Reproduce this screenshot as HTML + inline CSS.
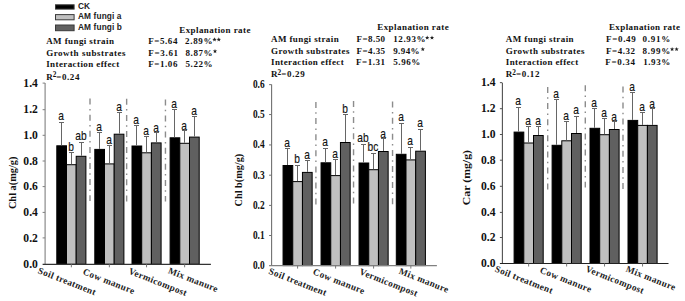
<!DOCTYPE html>
<html><head><meta charset="utf-8"><style>
html,body{margin:0;padding:0;background:#fff;}
svg{display:block;}
</style></head><body>
<svg width="685" height="301" viewBox="0 0 685 301">
<rect width="685" height="301" fill="#fff"/>
<rect x="55.5" y="4.80" width="18.6" height="4.30" fill="#000" stroke="#3a3a3a" stroke-width="1"/>
<text x="78" y="9.3" font-family='"Liberation Sans", sans-serif' font-size="8.3" font-weight="bold" text-anchor="start" fill="#222" letter-spacing="0.12">CK</text>
<rect x="55.5" y="14.60" width="18.6" height="5.20" fill="#c0c0c0" stroke="#3a3a3a" stroke-width="1"/>
<text x="78" y="19.0" font-family='"Liberation Sans", sans-serif' font-size="8.3" font-weight="bold" text-anchor="start" fill="#222" letter-spacing="0.12">AM fungi a</text>
<rect x="55.5" y="25.00" width="18.6" height="5.70" fill="#606060" stroke="#3a3a3a" stroke-width="1"/>
<text x="78" y="29.7" font-family='"Liberation Sans", sans-serif' font-size="8.3" font-weight="bold" text-anchor="start" fill="#222" letter-spacing="0.12">AM fungi b</text>
<rect x="56.80" y="145.80" width="9.7" height="118.50" fill="#000000" stroke="#000" stroke-width="1"/>
<line x1="61.50" y1="145.30" x2="61.50" y2="122.50" stroke="#666" stroke-width="1"/>
<line x1="59.00" y1="122.50" x2="64.00" y2="122.50" stroke="#666" stroke-width="1"/>
<text x="61.00" y="119.80" font-family='"Liberation Sans", sans-serif' font-size="12" text-anchor="middle" fill="#111" stroke="#111" stroke-width="0.15" transform="translate(61.00,0) scale(0.85,1) translate(-61.00,0)">a</text>
<rect x="66.50" y="164.70" width="9.7" height="99.60" fill="#c0c0c0" stroke="#000" stroke-width="1"/>
<line x1="71.50" y1="164.20" x2="71.50" y2="152.50" stroke="#666" stroke-width="1"/>
<line x1="69.00" y1="152.50" x2="74.00" y2="152.50" stroke="#666" stroke-width="1"/>
<text x="71.00" y="151.40" font-family='"Liberation Sans", sans-serif' font-size="12" text-anchor="middle" fill="#111" stroke="#111" stroke-width="0.15" transform="translate(71.00,0) scale(0.85,1) translate(-71.00,0)">b</text>
<rect x="76.20" y="156.30" width="9.7" height="108.00" fill="#606060" stroke="#000" stroke-width="1"/>
<line x1="81.50" y1="155.80" x2="81.50" y2="142.50" stroke="#666" stroke-width="1"/>
<line x1="79.00" y1="142.50" x2="84.00" y2="142.50" stroke="#666" stroke-width="1"/>
<text x="81.00" y="140.40" font-family='"Liberation Sans", sans-serif' font-size="12" text-anchor="middle" fill="#111" stroke="#111" stroke-width="0.15" transform="translate(81.00,0) scale(0.85,1) translate(-81.00,0)">ab</text>
<rect x="94.80" y="149.40" width="9.7" height="114.90" fill="#000000" stroke="#000" stroke-width="1"/>
<line x1="99.50" y1="148.90" x2="99.50" y2="132.50" stroke="#666" stroke-width="1"/>
<line x1="97.00" y1="132.50" x2="102.00" y2="132.50" stroke="#666" stroke-width="1"/>
<text x="99.00" y="130.60" font-family='"Liberation Sans", sans-serif' font-size="12" text-anchor="middle" fill="#111" stroke="#111" stroke-width="0.15" transform="translate(99.00,0) scale(0.85,1) translate(-99.00,0)">a</text>
<rect x="104.50" y="163.90" width="9.7" height="100.40" fill="#c0c0c0" stroke="#000" stroke-width="1"/>
<line x1="109.50" y1="163.40" x2="109.50" y2="145.50" stroke="#666" stroke-width="1"/>
<line x1="107.00" y1="145.50" x2="112.00" y2="145.50" stroke="#666" stroke-width="1"/>
<text x="109.00" y="143.70" font-family='"Liberation Sans", sans-serif' font-size="12" text-anchor="middle" fill="#111" stroke="#111" stroke-width="0.15" transform="translate(109.00,0) scale(0.85,1) translate(-109.00,0)">a</text>
<rect x="114.20" y="134.20" width="9.7" height="130.10" fill="#606060" stroke="#000" stroke-width="1"/>
<line x1="119.50" y1="133.70" x2="119.50" y2="112.50" stroke="#666" stroke-width="1"/>
<line x1="117.00" y1="112.50" x2="122.00" y2="112.50" stroke="#666" stroke-width="1"/>
<text x="119.00" y="111.30" font-family='"Liberation Sans", sans-serif' font-size="12" text-anchor="middle" fill="#111" stroke="#111" stroke-width="0.15" transform="translate(119.00,0) scale(0.85,1) translate(-119.00,0)">a</text>
<rect x="132.00" y="146.00" width="9.7" height="118.30" fill="#000000" stroke="#000" stroke-width="1"/>
<line x1="136.50" y1="145.50" x2="136.50" y2="125.50" stroke="#666" stroke-width="1"/>
<line x1="134.00" y1="125.50" x2="139.00" y2="125.50" stroke="#666" stroke-width="1"/>
<text x="136.00" y="123.70" font-family='"Liberation Sans", sans-serif' font-size="12" text-anchor="middle" fill="#111" stroke="#111" stroke-width="0.15" transform="translate(136.00,0) scale(0.85,1) translate(-136.00,0)">a</text>
<rect x="141.70" y="152.80" width="9.7" height="111.50" fill="#c0c0c0" stroke="#000" stroke-width="1"/>
<line x1="146.50" y1="152.30" x2="146.50" y2="136.50" stroke="#666" stroke-width="1"/>
<line x1="144.00" y1="136.50" x2="149.00" y2="136.50" stroke="#666" stroke-width="1"/>
<text x="146.00" y="134.60" font-family='"Liberation Sans", sans-serif' font-size="12" text-anchor="middle" fill="#111" stroke="#111" stroke-width="0.15" transform="translate(146.00,0) scale(0.85,1) translate(-146.00,0)">a</text>
<rect x="151.40" y="142.90" width="9.7" height="121.40" fill="#606060" stroke="#000" stroke-width="1"/>
<line x1="156.50" y1="142.40" x2="156.50" y2="132.50" stroke="#666" stroke-width="1"/>
<line x1="154.00" y1="132.50" x2="159.00" y2="132.50" stroke="#666" stroke-width="1"/>
<text x="156.00" y="131.90" font-family='"Liberation Sans", sans-serif' font-size="12" text-anchor="middle" fill="#111" stroke="#111" stroke-width="0.15" transform="translate(156.00,0) scale(0.85,1) translate(-156.00,0)">a</text>
<rect x="170.10" y="137.80" width="9.7" height="126.50" fill="#000000" stroke="#000" stroke-width="1"/>
<line x1="174.50" y1="137.30" x2="174.50" y2="109.50" stroke="#666" stroke-width="1"/>
<line x1="172.00" y1="109.50" x2="177.00" y2="109.50" stroke="#666" stroke-width="1"/>
<text x="174.00" y="108.10" font-family='"Liberation Sans", sans-serif' font-size="12" text-anchor="middle" fill="#111" stroke="#111" stroke-width="0.15" transform="translate(174.00,0) scale(0.85,1) translate(-174.00,0)">a</text>
<rect x="179.80" y="143.30" width="9.7" height="121.00" fill="#c0c0c0" stroke="#000" stroke-width="1"/>
<line x1="184.50" y1="142.80" x2="184.50" y2="130.50" stroke="#666" stroke-width="1"/>
<line x1="182.00" y1="130.50" x2="187.00" y2="130.50" stroke="#666" stroke-width="1"/>
<text x="184.00" y="129.60" font-family='"Liberation Sans", sans-serif' font-size="12" text-anchor="middle" fill="#111" stroke="#111" stroke-width="0.15" transform="translate(184.00,0) scale(0.85,1) translate(-184.00,0)">a</text>
<rect x="189.50" y="137.10" width="9.7" height="127.20" fill="#606060" stroke="#000" stroke-width="1"/>
<line x1="194.50" y1="136.60" x2="194.50" y2="116.50" stroke="#666" stroke-width="1"/>
<line x1="192.00" y1="116.50" x2="197.00" y2="116.50" stroke="#666" stroke-width="1"/>
<text x="194.00" y="114.70" font-family='"Liberation Sans", sans-serif' font-size="12" text-anchor="middle" fill="#111" stroke="#111" stroke-width="0.15" transform="translate(194.00,0) scale(0.85,1) translate(-194.00,0)">a</text>
<line x1="90.00" y1="98.6" x2="90.00" y2="201" stroke="#8c8c8c" stroke-width="1.4" stroke-dasharray="6 4.3 1.5 4.3"/>
<line x1="126.65" y1="98.8" x2="126.65" y2="201.5" stroke="#8c8c8c" stroke-width="1.4" stroke-dasharray="6 4.3 1.5 4.3"/>
<line x1="165.45" y1="99.4" x2="165.45" y2="201.5" stroke="#8c8c8c" stroke-width="1.4" stroke-dasharray="6 4.3 1.5 4.3"/>
<line x1="45.1" y1="83.1" x2="45.1" y2="264.3" stroke="#808080" stroke-width="1.1"/>
<line x1="42.6" y1="264.3" x2="210.9" y2="264.3" stroke="#333" stroke-width="1.2"/>
<text x="37.9" y="267.93" font-family='"Liberation Serif", serif' font-size="12.5" font-weight="bold" text-anchor="end" fill="#111" transform="translate(37.9,0) scale(0.93,1) translate(-37.9,0)">0.0</text>
<line x1="42.6" y1="237.90" x2="45.1" y2="237.90" stroke="#808080" stroke-width="1"/>
<text x="37.9" y="241.53" font-family='"Liberation Serif", serif' font-size="12.5" font-weight="bold" text-anchor="end" fill="#111" transform="translate(37.9,0) scale(0.93,1) translate(-37.9,0)">0.2</text>
<line x1="42.6" y1="212.40" x2="45.1" y2="212.40" stroke="#808080" stroke-width="1"/>
<text x="37.9" y="216.03" font-family='"Liberation Serif", serif' font-size="12.5" font-weight="bold" text-anchor="end" fill="#111" transform="translate(37.9,0) scale(0.93,1) translate(-37.9,0)">0.4</text>
<line x1="42.6" y1="186.60" x2="45.1" y2="186.60" stroke="#808080" stroke-width="1"/>
<text x="37.9" y="190.22" font-family='"Liberation Serif", serif' font-size="12.5" font-weight="bold" text-anchor="end" fill="#111" transform="translate(37.9,0) scale(0.93,1) translate(-37.9,0)">0.6</text>
<line x1="42.6" y1="161.00" x2="45.1" y2="161.00" stroke="#808080" stroke-width="1"/>
<text x="37.9" y="164.62" font-family='"Liberation Serif", serif' font-size="12.5" font-weight="bold" text-anchor="end" fill="#111" transform="translate(37.9,0) scale(0.93,1) translate(-37.9,0)">0.8</text>
<line x1="42.6" y1="135.30" x2="45.1" y2="135.30" stroke="#808080" stroke-width="1"/>
<text x="37.9" y="138.93" font-family='"Liberation Serif", serif' font-size="12.5" font-weight="bold" text-anchor="end" fill="#111" transform="translate(37.9,0) scale(0.93,1) translate(-37.9,0)">1.0</text>
<line x1="42.6" y1="109.70" x2="45.1" y2="109.70" stroke="#808080" stroke-width="1"/>
<text x="37.9" y="113.33" font-family='"Liberation Serif", serif' font-size="12.5" font-weight="bold" text-anchor="end" fill="#111" transform="translate(37.9,0) scale(0.93,1) translate(-37.9,0)">1.2</text>
<line x1="42.6" y1="83.10" x2="45.1" y2="83.10" stroke="#808080" stroke-width="1"/>
<text x="37.9" y="86.72" font-family='"Liberation Serif", serif' font-size="12.5" font-weight="bold" text-anchor="end" fill="#111" transform="translate(37.9,0) scale(0.93,1) translate(-37.9,0)">1.4</text>
<line x1="71.35" y1="264.3" x2="71.35" y2="267.3" stroke="#777" stroke-width="1"/>
<line x1="109.35" y1="264.3" x2="109.35" y2="267.3" stroke="#777" stroke-width="1"/>
<line x1="146.55" y1="264.3" x2="146.55" y2="267.3" stroke="#777" stroke-width="1"/>
<line x1="184.65" y1="264.3" x2="184.65" y2="267.3" stroke="#777" stroke-width="1"/>
<text x="0" y="0" font-family='"Liberation Serif", serif' font-size="9.3" font-weight="bold" fill="#222" letter-spacing="0.38" transform="translate(39.90,266.40) rotate(21.5) translate(0,7)">Soil treatment</text>
<text x="0" y="0" font-family='"Liberation Serif", serif' font-size="9.3" font-weight="bold" fill="#222" letter-spacing="0.38" transform="translate(84.80,267.60) rotate(21.5) translate(0,7)">Cow manure</text>
<text x="0" y="0" font-family='"Liberation Serif", serif' font-size="9.3" font-weight="bold" fill="#222" letter-spacing="0.38" transform="translate(130.60,267.00) rotate(21.5) translate(0,7)">Vermicompost</text>
<text x="0" y="0" font-family='"Liberation Serif", serif' font-size="9.3" font-weight="bold" fill="#222" letter-spacing="0.38" transform="translate(170.10,266.40) rotate(21.5) translate(0,7)">Mix manure</text>
<text x="0" y="0" font-family='"Liberation Serif", serif' font-size="10.8" font-weight="bold" text-anchor="middle" fill="#111" textLength="52.6" lengthAdjust="spacingAndGlyphs" transform="translate(16.0,182.8) rotate(-90)">Chl a(mg/g)</text>
<text x="179.2" y="32.5" font-family='"Liberation Serif", serif' font-size="9.0" font-weight="bold" text-anchor="start" fill="#111" textLength="71.2" lengthAdjust="spacing" >Explanation rate</text>
<text x="46.2" y="44.1" font-family='"Liberation Serif", serif' font-size="9.0" font-weight="bold" text-anchor="start" fill="#111" textLength="67.7" lengthAdjust="spacing" >AM fungi strain</text>
<text x="148.3" y="44.1" font-family='"Liberation Serif", serif' font-size="9.0" font-weight="bold" text-anchor="start" fill="#111" textLength="29.1" lengthAdjust="spacing" >F=5.64</text>
<text x="184.9" y="44.1" font-family='"Liberation Serif", serif' font-size="9.0" font-weight="bold" text-anchor="start" fill="#111" textLength="27.7" lengthAdjust="spacing" >2.89%</text>
<polygon points="214.50,37.30 215.07,38.82 216.69,38.89 215.42,39.90 215.85,41.46 214.50,40.57 213.15,41.46 213.58,39.90 212.31,38.89 213.93,38.82" fill="#222"/>
<polygon points="218.80,37.30 219.37,38.82 220.99,38.89 219.72,39.90 220.15,41.46 218.80,40.57 217.45,41.46 217.88,39.90 216.61,38.89 218.23,38.82" fill="#222"/>
<text x="46.2" y="55.9" font-family='"Liberation Serif", serif' font-size="9.0" font-weight="bold" text-anchor="start" fill="#111" textLength="79.4" lengthAdjust="spacing" >Growth substrates</text>
<text x="148.3" y="55.9" font-family='"Liberation Serif", serif' font-size="9.0" font-weight="bold" text-anchor="start" fill="#111" textLength="29.8" lengthAdjust="spacing" >F=3.61</text>
<text x="185.5" y="55.9" font-family='"Liberation Serif", serif' font-size="9.0" font-weight="bold" text-anchor="start" fill="#111" textLength="27.1" lengthAdjust="spacing" >8.87%</text>
<polygon points="215.00,49.00 215.57,50.52 217.19,50.59 215.92,51.60 216.35,53.16 215.00,52.27 213.65,53.16 214.08,51.60 212.81,50.59 214.43,50.52" fill="#222"/>
<text x="46.2" y="67.4" font-family='"Liberation Serif", serif' font-size="9.0" font-weight="bold" text-anchor="start" fill="#111" textLength="73.0" lengthAdjust="spacing" >Interaction effect</text>
<text x="148.3" y="67.4" font-family='"Liberation Serif", serif' font-size="9.0" font-weight="bold" text-anchor="start" fill="#111" textLength="29.1" lengthAdjust="spacing" >F=1.06</text>
<text x="185.5" y="67.4" font-family='"Liberation Serif", serif' font-size="9.0" font-weight="bold" text-anchor="start" fill="#111" textLength="27.1" lengthAdjust="spacing" >5.22%</text>
<text x="46.2" y="79.7" font-family='"Liberation Serif", serif' font-size="9.0" font-weight="bold" fill="#111">R<tspan font-size="7.3" dy="-2.5">2</tspan><tspan dy="2.5" textLength="23.05" lengthAdjust="spacing">=0.24</tspan></text>
<rect x="283.05" y="165.50" width="9.7" height="100.10" fill="#000000" stroke="#000" stroke-width="1"/>
<line x1="287.50" y1="165.00" x2="287.50" y2="148.50" stroke="#666" stroke-width="1"/>
<line x1="285.00" y1="148.50" x2="290.00" y2="148.50" stroke="#666" stroke-width="1"/>
<text x="287.00" y="147.30" font-family='"Liberation Sans", sans-serif' font-size="12" text-anchor="middle" fill="#111" stroke="#111" stroke-width="0.15" transform="translate(287.00,0) scale(0.85,1) translate(-287.00,0)">a</text>
<rect x="292.75" y="181.60" width="9.7" height="84.00" fill="#c0c0c0" stroke="#000" stroke-width="1"/>
<line x1="297.50" y1="181.10" x2="297.50" y2="165.50" stroke="#666" stroke-width="1"/>
<line x1="295.00" y1="165.50" x2="300.00" y2="165.50" stroke="#666" stroke-width="1"/>
<text x="297.00" y="163.20" font-family='"Liberation Sans", sans-serif' font-size="12" text-anchor="middle" fill="#111" stroke="#111" stroke-width="0.15" transform="translate(297.00,0) scale(0.85,1) translate(-297.00,0)">b</text>
<rect x="302.45" y="172.40" width="9.7" height="93.20" fill="#606060" stroke="#000" stroke-width="1"/>
<line x1="307.50" y1="171.90" x2="307.50" y2="160.50" stroke="#666" stroke-width="1"/>
<line x1="305.00" y1="160.50" x2="310.00" y2="160.50" stroke="#666" stroke-width="1"/>
<text x="307.00" y="159.20" font-family='"Liberation Sans", sans-serif' font-size="12" text-anchor="middle" fill="#111" stroke="#111" stroke-width="0.15" transform="translate(307.00,0) scale(0.85,1) translate(-307.00,0)">a</text>
<rect x="321.05" y="162.80" width="9.7" height="102.80" fill="#000000" stroke="#000" stroke-width="1"/>
<line x1="325.50" y1="162.30" x2="325.50" y2="148.50" stroke="#666" stroke-width="1"/>
<line x1="323.00" y1="148.50" x2="328.00" y2="148.50" stroke="#666" stroke-width="1"/>
<text x="325.00" y="146.20" font-family='"Liberation Sans", sans-serif' font-size="12" text-anchor="middle" fill="#111" stroke="#111" stroke-width="0.15" transform="translate(325.00,0) scale(0.85,1) translate(-325.00,0)">a</text>
<rect x="330.75" y="175.60" width="9.7" height="90.00" fill="#c0c0c0" stroke="#000" stroke-width="1"/>
<line x1="335.50" y1="175.10" x2="335.50" y2="159.50" stroke="#666" stroke-width="1"/>
<line x1="333.00" y1="159.50" x2="338.00" y2="159.50" stroke="#666" stroke-width="1"/>
<text x="335.00" y="157.80" font-family='"Liberation Sans", sans-serif' font-size="12" text-anchor="middle" fill="#111" stroke="#111" stroke-width="0.15" transform="translate(335.00,0) scale(0.85,1) translate(-335.00,0)">a</text>
<rect x="340.45" y="142.50" width="9.7" height="123.10" fill="#606060" stroke="#000" stroke-width="1"/>
<line x1="345.50" y1="142.00" x2="345.50" y2="114.50" stroke="#666" stroke-width="1"/>
<line x1="343.00" y1="114.50" x2="348.00" y2="114.50" stroke="#666" stroke-width="1"/>
<text x="345.00" y="113.10" font-family='"Liberation Sans", sans-serif' font-size="12" text-anchor="middle" fill="#111" stroke="#111" stroke-width="0.15" transform="translate(345.00,0) scale(0.85,1) translate(-345.00,0)">b</text>
<rect x="359.05" y="163.00" width="9.7" height="102.60" fill="#000000" stroke="#000" stroke-width="1"/>
<line x1="363.50" y1="162.50" x2="363.50" y2="144.50" stroke="#666" stroke-width="1"/>
<line x1="361.00" y1="144.50" x2="366.00" y2="144.50" stroke="#666" stroke-width="1"/>
<text x="363.00" y="142.30" font-family='"Liberation Sans", sans-serif' font-size="12" text-anchor="middle" fill="#111" stroke="#111" stroke-width="0.15" transform="translate(363.00,0) scale(0.85,1) translate(-363.00,0)">ab</text>
<rect x="368.75" y="169.70" width="9.7" height="95.90" fill="#c0c0c0" stroke="#000" stroke-width="1"/>
<line x1="373.50" y1="169.20" x2="373.50" y2="153.50" stroke="#666" stroke-width="1"/>
<line x1="371.00" y1="153.50" x2="376.00" y2="153.50" stroke="#666" stroke-width="1"/>
<text x="373.00" y="151.40" font-family='"Liberation Sans", sans-serif' font-size="12" text-anchor="middle" fill="#111" stroke="#111" stroke-width="0.15" transform="translate(373.00,0) scale(0.85,1) translate(-373.00,0)">bc</text>
<rect x="378.45" y="151.50" width="9.7" height="114.10" fill="#606060" stroke="#000" stroke-width="1"/>
<line x1="383.50" y1="151.00" x2="383.50" y2="138.50" stroke="#666" stroke-width="1"/>
<line x1="381.00" y1="138.50" x2="386.00" y2="138.50" stroke="#666" stroke-width="1"/>
<text x="383.00" y="138.10" font-family='"Liberation Sans", sans-serif' font-size="12" text-anchor="middle" fill="#111" stroke="#111" stroke-width="0.15" transform="translate(383.00,0) scale(0.85,1) translate(-383.00,0)">a</text>
<rect x="396.30" y="154.30" width="9.7" height="111.30" fill="#000000" stroke="#000" stroke-width="1"/>
<line x1="401.50" y1="153.80" x2="401.50" y2="123.50" stroke="#666" stroke-width="1"/>
<line x1="399.00" y1="123.50" x2="404.00" y2="123.50" stroke="#666" stroke-width="1"/>
<text x="401.00" y="121.30" font-family='"Liberation Sans", sans-serif' font-size="12" text-anchor="middle" fill="#111" stroke="#111" stroke-width="0.15" transform="translate(401.00,0) scale(0.85,1) translate(-401.00,0)">a</text>
<rect x="406.00" y="159.90" width="9.7" height="105.70" fill="#c0c0c0" stroke="#000" stroke-width="1"/>
<line x1="410.50" y1="159.40" x2="410.50" y2="147.50" stroke="#666" stroke-width="1"/>
<line x1="408.00" y1="147.50" x2="413.00" y2="147.50" stroke="#666" stroke-width="1"/>
<text x="410.00" y="145.50" font-family='"Liberation Sans", sans-serif' font-size="12" text-anchor="middle" fill="#111" stroke="#111" stroke-width="0.15" transform="translate(410.00,0) scale(0.85,1) translate(-410.00,0)">a</text>
<rect x="415.70" y="151.20" width="9.7" height="114.40" fill="#606060" stroke="#000" stroke-width="1"/>
<line x1="420.50" y1="150.70" x2="420.50" y2="129.50" stroke="#666" stroke-width="1"/>
<line x1="418.00" y1="129.50" x2="423.00" y2="129.50" stroke="#666" stroke-width="1"/>
<text x="420.00" y="126.80" font-family='"Liberation Sans", sans-serif' font-size="12" text-anchor="middle" fill="#111" stroke="#111" stroke-width="0.15" transform="translate(420.00,0) scale(0.85,1) translate(-420.00,0)">a</text>
<line x1="315.90" y1="102.0" x2="315.90" y2="205" stroke="#8c8c8c" stroke-width="1.4" stroke-dasharray="6 4.3 1.5 4.3"/>
<line x1="353.55" y1="101.0" x2="353.55" y2="204" stroke="#8c8c8c" stroke-width="1.4" stroke-dasharray="6 4.3 1.5 4.3"/>
<line x1="392.55" y1="101.6" x2="392.55" y2="205" stroke="#8c8c8c" stroke-width="1.4" stroke-dasharray="6 4.3 1.5 4.3"/>
<line x1="271.6" y1="84.5" x2="271.6" y2="265.6" stroke="#707070" stroke-width="1.1"/>
<line x1="269.1" y1="265.6" x2="436.9" y2="265.6" stroke="#808080" stroke-width="1.2"/>
<text x="264.6" y="269.06" font-family='"Liberation Serif", serif' font-size="12" font-weight="bold" text-anchor="end" fill="#111" transform="translate(264.6,0) scale(0.78,1) translate(-264.6,0)">0.0</text>
<line x1="269.1" y1="235.50" x2="271.6" y2="235.50" stroke="#707070" stroke-width="1"/>
<text x="264.6" y="238.96" font-family='"Liberation Serif", serif' font-size="12" font-weight="bold" text-anchor="end" fill="#111" transform="translate(264.6,0) scale(0.78,1) translate(-264.6,0)">0.1</text>
<line x1="269.1" y1="205.40" x2="271.6" y2="205.40" stroke="#707070" stroke-width="1"/>
<text x="264.6" y="208.86" font-family='"Liberation Serif", serif' font-size="12" font-weight="bold" text-anchor="end" fill="#111" transform="translate(264.6,0) scale(0.78,1) translate(-264.6,0)">0.2</text>
<line x1="269.1" y1="175.20" x2="271.6" y2="175.20" stroke="#707070" stroke-width="1"/>
<text x="264.6" y="178.66" font-family='"Liberation Serif", serif' font-size="12" font-weight="bold" text-anchor="end" fill="#111" transform="translate(264.6,0) scale(0.78,1) translate(-264.6,0)">0.3</text>
<line x1="269.1" y1="144.95" x2="271.6" y2="144.95" stroke="#707070" stroke-width="1"/>
<text x="264.6" y="148.41" font-family='"Liberation Serif", serif' font-size="12" font-weight="bold" text-anchor="end" fill="#111" transform="translate(264.6,0) scale(0.78,1) translate(-264.6,0)">0.4</text>
<line x1="269.1" y1="114.55" x2="271.6" y2="114.55" stroke="#707070" stroke-width="1"/>
<text x="264.6" y="118.01" font-family='"Liberation Serif", serif' font-size="12" font-weight="bold" text-anchor="end" fill="#111" transform="translate(264.6,0) scale(0.78,1) translate(-264.6,0)">0.5</text>
<line x1="269.1" y1="84.65" x2="271.6" y2="84.65" stroke="#707070" stroke-width="1"/>
<text x="264.6" y="88.11" font-family='"Liberation Serif", serif' font-size="12" font-weight="bold" text-anchor="end" fill="#111" transform="translate(264.6,0) scale(0.78,1) translate(-264.6,0)">0.6</text>
<line x1="297.60" y1="265.6" x2="297.60" y2="268.6" stroke="#777" stroke-width="1"/>
<line x1="335.60" y1="265.6" x2="335.60" y2="268.6" stroke="#777" stroke-width="1"/>
<line x1="373.60" y1="265.6" x2="373.60" y2="268.6" stroke="#777" stroke-width="1"/>
<line x1="410.85" y1="265.6" x2="410.85" y2="268.6" stroke="#777" stroke-width="1"/>
<text x="0" y="0" font-family='"Liberation Serif", serif' font-size="9.3" font-weight="bold" fill="#222" letter-spacing="0.38" transform="translate(270.60,267.00) rotate(21.5) translate(0,7)">Soil treatment</text>
<text x="0" y="0" font-family='"Liberation Serif", serif' font-size="9.3" font-weight="bold" fill="#222" letter-spacing="0.38" transform="translate(314.90,267.60) rotate(21.5) translate(0,7)">Cow manure</text>
<text x="0" y="0" font-family='"Liberation Serif", serif' font-size="9.3" font-weight="bold" fill="#222" letter-spacing="0.38" transform="translate(361.40,267.60) rotate(21.5) translate(0,7)">Vermicompost</text>
<text x="0" y="0" font-family='"Liberation Serif", serif' font-size="9.3" font-weight="bold" fill="#222" letter-spacing="0.38" transform="translate(400.80,267.00) rotate(21.5) translate(0,7)">Mix manure</text>
<text x="0" y="0" font-family='"Liberation Serif", serif' font-size="10.8" font-weight="bold" text-anchor="middle" fill="#111" textLength="52.7" lengthAdjust="spacingAndGlyphs" transform="translate(241.6,180.1) rotate(-90)">Chl b(mg/g)</text>
<text x="377.2" y="30.1" font-family='"Liberation Serif", serif' font-size="9.0" font-weight="bold" text-anchor="start" fill="#111" textLength="71.5" lengthAdjust="spacing" >Explanation rate</text>
<text x="271.0" y="41.8" font-family='"Liberation Serif", serif' font-size="9.0" font-weight="bold" text-anchor="start" fill="#111" textLength="67.7" lengthAdjust="spacing" >AM fungi strain</text>
<text x="356.5" y="41.8" font-family='"Liberation Serif", serif' font-size="9.0" font-weight="bold" text-anchor="start" fill="#111" textLength="28.6" lengthAdjust="spacing" >F=8.50</text>
<text x="393.2" y="41.8" font-family='"Liberation Serif", serif' font-size="9.0" font-weight="bold" text-anchor="start" fill="#111" textLength="32.4" lengthAdjust="spacing" >12.93%</text>
<polygon points="427.20,35.40 427.77,36.92 429.39,36.99 428.12,38.00 428.55,39.56 427.20,38.67 425.85,39.56 426.28,38.00 425.01,36.99 426.63,36.92" fill="#222"/>
<polygon points="432.00,35.40 432.57,36.92 434.19,36.99 432.92,38.00 433.35,39.56 432.00,38.67 430.65,39.56 431.08,38.00 429.81,36.99 431.43,36.92" fill="#222"/>
<text x="271.0" y="53.6" font-family='"Liberation Serif", serif' font-size="9.0" font-weight="bold" text-anchor="start" fill="#111" textLength="78.5" lengthAdjust="spacing" >Growth substrates</text>
<text x="356.5" y="53.6" font-family='"Liberation Serif", serif' font-size="9.0" font-weight="bold" text-anchor="start" fill="#111" textLength="28.6" lengthAdjust="spacing" >F=4.35</text>
<text x="393.2" y="53.6" font-family='"Liberation Serif", serif' font-size="9.0" font-weight="bold" text-anchor="start" fill="#111" textLength="26.4" lengthAdjust="spacing" >9.94%</text>
<polygon points="422.80,46.90 423.37,48.42 424.99,48.49 423.72,49.50 424.15,51.06 422.80,50.17 421.45,51.06 421.88,49.50 420.61,48.49 422.23,48.42" fill="#222"/>
<text x="271.0" y="65.2" font-family='"Liberation Serif", serif' font-size="9.0" font-weight="bold" text-anchor="start" fill="#111" textLength="72.7" lengthAdjust="spacing" >Interaction effect</text>
<text x="356.0" y="65.2" font-family='"Liberation Serif", serif' font-size="9.0" font-weight="bold" text-anchor="start" fill="#111" textLength="29.1" lengthAdjust="spacing" >F=1.31</text>
<text x="393.2" y="65.2" font-family='"Liberation Serif", serif' font-size="9.0" font-weight="bold" text-anchor="start" fill="#111" textLength="27.1" lengthAdjust="spacing" >5.96%</text>
<text x="271.0" y="77.2" font-family='"Liberation Serif", serif' font-size="9.0" font-weight="bold" fill="#111">R<tspan font-size="7.3" dy="-2.5">2</tspan><tspan dy="2.5" textLength="23.55" lengthAdjust="spacing">=0.29</tspan></text>
<rect x="514.10" y="132.10" width="9.7" height="131.40" fill="#000000" stroke="#000" stroke-width="1"/>
<line x1="518.50" y1="131.60" x2="518.50" y2="107.50" stroke="#666" stroke-width="1"/>
<line x1="516.00" y1="107.50" x2="521.00" y2="107.50" stroke="#666" stroke-width="1"/>
<text x="518.00" y="104.90" font-family='"Liberation Sans", sans-serif' font-size="12" text-anchor="middle" fill="#111" stroke="#111" stroke-width="0.15" transform="translate(518.00,0) scale(0.85,1) translate(-518.00,0)">a</text>
<rect x="523.80" y="143.00" width="9.7" height="120.50" fill="#c0c0c0" stroke="#000" stroke-width="1"/>
<line x1="528.50" y1="142.50" x2="528.50" y2="126.50" stroke="#666" stroke-width="1"/>
<line x1="526.00" y1="126.50" x2="531.00" y2="126.50" stroke="#666" stroke-width="1"/>
<text x="528.00" y="124.60" font-family='"Liberation Sans", sans-serif' font-size="12" text-anchor="middle" fill="#111" stroke="#111" stroke-width="0.15" transform="translate(528.00,0) scale(0.85,1) translate(-528.00,0)">a</text>
<rect x="533.50" y="135.50" width="9.7" height="128.00" fill="#606060" stroke="#000" stroke-width="1"/>
<line x1="538.50" y1="135.00" x2="538.50" y2="126.50" stroke="#666" stroke-width="1"/>
<line x1="536.00" y1="126.50" x2="541.00" y2="126.50" stroke="#666" stroke-width="1"/>
<text x="538.00" y="124.60" font-family='"Liberation Sans", sans-serif' font-size="12" text-anchor="middle" fill="#111" stroke="#111" stroke-width="0.15" transform="translate(538.00,0) scale(0.85,1) translate(-538.00,0)">a</text>
<rect x="552.10" y="145.30" width="9.7" height="118.20" fill="#000000" stroke="#000" stroke-width="1"/>
<line x1="556.50" y1="144.80" x2="556.50" y2="99.50" stroke="#666" stroke-width="1"/>
<line x1="554.00" y1="99.50" x2="559.00" y2="99.50" stroke="#666" stroke-width="1"/>
<text x="556.00" y="97.80" font-family='"Liberation Sans", sans-serif' font-size="12" text-anchor="middle" fill="#111" stroke="#111" stroke-width="0.15" transform="translate(556.00,0) scale(0.85,1) translate(-556.00,0)">a</text>
<rect x="561.80" y="140.80" width="9.7" height="122.70" fill="#c0c0c0" stroke="#000" stroke-width="1"/>
<line x1="566.50" y1="140.30" x2="566.50" y2="121.50" stroke="#666" stroke-width="1"/>
<line x1="564.00" y1="121.50" x2="569.00" y2="121.50" stroke="#666" stroke-width="1"/>
<text x="566.00" y="119.60" font-family='"Liberation Sans", sans-serif' font-size="12" text-anchor="middle" fill="#111" stroke="#111" stroke-width="0.15" transform="translate(566.00,0) scale(0.85,1) translate(-566.00,0)">a</text>
<rect x="571.50" y="133.50" width="9.7" height="130.00" fill="#606060" stroke="#000" stroke-width="1"/>
<line x1="576.50" y1="133.00" x2="576.50" y2="116.50" stroke="#666" stroke-width="1"/>
<line x1="574.00" y1="116.50" x2="579.00" y2="116.50" stroke="#666" stroke-width="1"/>
<text x="576.00" y="114.20" font-family='"Liberation Sans", sans-serif' font-size="12" text-anchor="middle" fill="#111" stroke="#111" stroke-width="0.15" transform="translate(576.00,0) scale(0.85,1) translate(-576.00,0)">a</text>
<rect x="590.00" y="128.30" width="9.7" height="135.20" fill="#000000" stroke="#000" stroke-width="1"/>
<line x1="594.50" y1="127.80" x2="594.50" y2="108.50" stroke="#666" stroke-width="1"/>
<line x1="592.00" y1="108.50" x2="597.00" y2="108.50" stroke="#666" stroke-width="1"/>
<text x="594.00" y="106.80" font-family='"Liberation Sans", sans-serif' font-size="12" text-anchor="middle" fill="#111" stroke="#111" stroke-width="0.15" transform="translate(594.00,0) scale(0.85,1) translate(-594.00,0)">a</text>
<rect x="599.70" y="134.70" width="9.7" height="128.80" fill="#c0c0c0" stroke="#000" stroke-width="1"/>
<line x1="604.50" y1="134.20" x2="604.50" y2="118.50" stroke="#666" stroke-width="1"/>
<line x1="602.00" y1="118.50" x2="607.00" y2="118.50" stroke="#666" stroke-width="1"/>
<text x="604.00" y="117.30" font-family='"Liberation Sans", sans-serif' font-size="12" text-anchor="middle" fill="#111" stroke="#111" stroke-width="0.15" transform="translate(604.00,0) scale(0.85,1) translate(-604.00,0)">a</text>
<rect x="609.40" y="129.50" width="9.7" height="134.00" fill="#606060" stroke="#000" stroke-width="1"/>
<line x1="614.50" y1="129.00" x2="614.50" y2="121.50" stroke="#666" stroke-width="1"/>
<line x1="612.00" y1="121.50" x2="617.00" y2="121.50" stroke="#666" stroke-width="1"/>
<text x="614.00" y="120.60" font-family='"Liberation Sans", sans-serif' font-size="12" text-anchor="middle" fill="#111" stroke="#111" stroke-width="0.15" transform="translate(614.00,0) scale(0.85,1) translate(-614.00,0)">a</text>
<rect x="628.00" y="120.40" width="9.7" height="143.10" fill="#000000" stroke="#000" stroke-width="1"/>
<line x1="632.50" y1="119.90" x2="632.50" y2="92.50" stroke="#666" stroke-width="1"/>
<line x1="630.00" y1="92.50" x2="635.00" y2="92.50" stroke="#666" stroke-width="1"/>
<text x="632.00" y="90.60" font-family='"Liberation Sans", sans-serif' font-size="12" text-anchor="middle" fill="#111" stroke="#111" stroke-width="0.15" transform="translate(632.00,0) scale(0.85,1) translate(-632.00,0)">a</text>
<rect x="637.70" y="125.40" width="9.7" height="138.10" fill="#c0c0c0" stroke="#000" stroke-width="1"/>
<line x1="642.50" y1="124.90" x2="642.50" y2="112.50" stroke="#666" stroke-width="1"/>
<line x1="640.00" y1="112.50" x2="645.00" y2="112.50" stroke="#666" stroke-width="1"/>
<text x="642.00" y="110.60" font-family='"Liberation Sans", sans-serif' font-size="12" text-anchor="middle" fill="#111" stroke="#111" stroke-width="0.15" transform="translate(642.00,0) scale(0.85,1) translate(-642.00,0)">a</text>
<rect x="647.40" y="125.40" width="9.7" height="138.10" fill="#606060" stroke="#000" stroke-width="1"/>
<line x1="652.50" y1="124.90" x2="652.50" y2="108.50" stroke="#666" stroke-width="1"/>
<line x1="650.00" y1="108.50" x2="655.00" y2="108.50" stroke="#666" stroke-width="1"/>
<text x="652.00" y="108.30" font-family='"Liberation Sans", sans-serif' font-size="12" text-anchor="middle" fill="#111" stroke="#111" stroke-width="0.15" transform="translate(652.00,0) scale(0.85,1) translate(-652.00,0)">a</text>
<line x1="547.70" y1="87.0" x2="547.70" y2="190" stroke="#8c8c8c" stroke-width="1.4" stroke-dasharray="6 4.3 1.5 4.3"/>
<line x1="585.30" y1="85.2" x2="585.30" y2="187.5" stroke="#8c8c8c" stroke-width="1.4" stroke-dasharray="6 4.3 1.5 4.3"/>
<line x1="623.00" y1="86.4" x2="623.00" y2="189.5" stroke="#8c8c8c" stroke-width="1.4" stroke-dasharray="6 4.3 1.5 4.3"/>
<line x1="502.4" y1="83.0" x2="502.4" y2="263.5" stroke="#505050" stroke-width="1.1"/>
<line x1="499.9" y1="263.5" x2="668.5" y2="263.5" stroke="#222" stroke-width="1.2"/>
<text x="495.5" y="267.12" font-family='"Liberation Serif", serif' font-size="12.5" font-weight="bold" text-anchor="end" fill="#111" transform="translate(495.5,0) scale(0.93,1) translate(-495.5,0)">0.0</text>
<line x1="499.9" y1="237.50" x2="502.4" y2="237.50" stroke="#505050" stroke-width="1"/>
<text x="495.5" y="241.12" font-family='"Liberation Serif", serif' font-size="12.5" font-weight="bold" text-anchor="end" fill="#111" transform="translate(495.5,0) scale(0.93,1) translate(-495.5,0)">0.2</text>
<line x1="499.9" y1="212.40" x2="502.4" y2="212.40" stroke="#505050" stroke-width="1"/>
<text x="495.5" y="216.03" font-family='"Liberation Serif", serif' font-size="12.5" font-weight="bold" text-anchor="end" fill="#111" transform="translate(495.5,0) scale(0.93,1) translate(-495.5,0)">0.4</text>
<line x1="499.9" y1="186.30" x2="502.4" y2="186.30" stroke="#505050" stroke-width="1"/>
<text x="495.5" y="189.93" font-family='"Liberation Serif", serif' font-size="12.5" font-weight="bold" text-anchor="end" fill="#111" transform="translate(495.5,0) scale(0.93,1) translate(-495.5,0)">0.6</text>
<line x1="499.9" y1="160.20" x2="502.4" y2="160.20" stroke="#505050" stroke-width="1"/>
<text x="495.5" y="163.82" font-family='"Liberation Serif", serif' font-size="12.5" font-weight="bold" text-anchor="end" fill="#111" transform="translate(495.5,0) scale(0.93,1) translate(-495.5,0)">0.8</text>
<line x1="499.9" y1="134.50" x2="502.4" y2="134.50" stroke="#505050" stroke-width="1"/>
<text x="495.5" y="138.12" font-family='"Liberation Serif", serif' font-size="12.5" font-weight="bold" text-anchor="end" fill="#111" transform="translate(495.5,0) scale(0.93,1) translate(-495.5,0)">1.0</text>
<line x1="499.9" y1="108.70" x2="502.4" y2="108.70" stroke="#505050" stroke-width="1"/>
<text x="495.5" y="112.33" font-family='"Liberation Serif", serif' font-size="12.5" font-weight="bold" text-anchor="end" fill="#111" transform="translate(495.5,0) scale(0.93,1) translate(-495.5,0)">1.2</text>
<line x1="499.9" y1="82.65" x2="502.4" y2="82.65" stroke="#505050" stroke-width="1"/>
<text x="495.5" y="86.28" font-family='"Liberation Serif", serif' font-size="12.5" font-weight="bold" text-anchor="end" fill="#111" transform="translate(495.5,0) scale(0.93,1) translate(-495.5,0)">1.4</text>
<line x1="528.65" y1="263.5" x2="528.65" y2="266.5" stroke="#777" stroke-width="1"/>
<line x1="566.65" y1="263.5" x2="566.65" y2="266.5" stroke="#777" stroke-width="1"/>
<line x1="604.55" y1="263.5" x2="604.55" y2="266.5" stroke="#777" stroke-width="1"/>
<line x1="642.55" y1="263.5" x2="642.55" y2="266.5" stroke="#777" stroke-width="1"/>
<text x="0" y="0" font-family='"Liberation Serif", serif' font-size="9.3" font-weight="bold" fill="#222" letter-spacing="0.38" transform="translate(496.80,264.80) rotate(21.5) translate(0,7)">Soil treatment</text>
<text x="0" y="0" font-family='"Liberation Serif", serif' font-size="9.3" font-weight="bold" fill="#222" letter-spacing="0.38" transform="translate(541.70,266.00) rotate(21.5) translate(0,7)">Cow manure</text>
<text x="0" y="0" font-family='"Liberation Serif", serif' font-size="9.3" font-weight="bold" fill="#222" letter-spacing="0.38" transform="translate(587.60,264.80) rotate(21.5) translate(0,7)">Vermicompost</text>
<text x="0" y="0" font-family='"Liberation Serif", serif' font-size="9.3" font-weight="bold" fill="#222" letter-spacing="0.38" transform="translate(627.70,264.80) rotate(21.5) translate(0,7)">Mix manure</text>
<text x="0" y="0" font-family='"Liberation Serif", serif' font-size="10.8" font-weight="bold" text-anchor="middle" fill="#111" textLength="55.1" lengthAdjust="spacingAndGlyphs" transform="translate(469.8,177.6) rotate(-90)">Car (mg/g)</text>
<text x="608.9" y="30.3" font-family='"Liberation Serif", serif' font-size="9.0" font-weight="bold" text-anchor="start" fill="#111" textLength="71.0" lengthAdjust="spacing" >Explanation rate</text>
<text x="505.8" y="41.6" font-family='"Liberation Serif", serif' font-size="9.0" font-weight="bold" text-anchor="start" fill="#111" textLength="67.8" lengthAdjust="spacing" >AM fungi strain</text>
<text x="606.0" y="41.6" font-family='"Liberation Serif", serif' font-size="9.0" font-weight="bold" text-anchor="start" fill="#111" textLength="29.7" lengthAdjust="spacing" >F=0.49</text>
<text x="642.5" y="41.6" font-family='"Liberation Serif", serif' font-size="9.0" font-weight="bold" text-anchor="start" fill="#111" textLength="27.7" lengthAdjust="spacing" >0.91%</text>
<text x="505.8" y="53.6" font-family='"Liberation Serif", serif' font-size="9.0" font-weight="bold" text-anchor="start" fill="#111" textLength="78.6" lengthAdjust="spacing" >Growth substrates</text>
<text x="606.0" y="53.6" font-family='"Liberation Serif", serif' font-size="9.0" font-weight="bold" text-anchor="start" fill="#111" textLength="29.0" lengthAdjust="spacing" >F=4.32</text>
<text x="642.5" y="53.6" font-family='"Liberation Serif", serif' font-size="9.0" font-weight="bold" text-anchor="start" fill="#111" textLength="27.7" lengthAdjust="spacing" >8.99%</text>
<polygon points="672.10,46.90 672.67,48.42 674.29,48.49 673.02,49.50 673.45,51.06 672.10,50.17 670.75,51.06 671.18,49.50 669.91,48.49 671.53,48.42" fill="#222"/>
<polygon points="676.60,46.90 677.17,48.42 678.79,48.49 677.52,49.50 677.95,51.06 676.60,50.17 675.25,51.06 675.68,49.50 674.41,48.49 676.03,48.42" fill="#222"/>
<text x="505.8" y="65.0" font-family='"Liberation Serif", serif' font-size="9.0" font-weight="bold" text-anchor="start" fill="#111" textLength="72.4" lengthAdjust="spacing" >Interaction effect</text>
<text x="605.3" y="65.0" font-family='"Liberation Serif", serif' font-size="9.0" font-weight="bold" text-anchor="start" fill="#111" textLength="29.7" lengthAdjust="spacing" >F=0.34</text>
<text x="643.2" y="65.0" font-family='"Liberation Serif", serif' font-size="9.0" font-weight="bold" text-anchor="start" fill="#111" textLength="27.0" lengthAdjust="spacing" >1.93%</text>
<text x="505.8" y="77.1" font-family='"Liberation Serif", serif' font-size="9.0" font-weight="bold" fill="#111">R<tspan font-size="7.3" dy="-2.5">2</tspan><tspan dy="2.5" textLength="23.55" lengthAdjust="spacing">=0.12</tspan></text>
</svg>
</body></html>
